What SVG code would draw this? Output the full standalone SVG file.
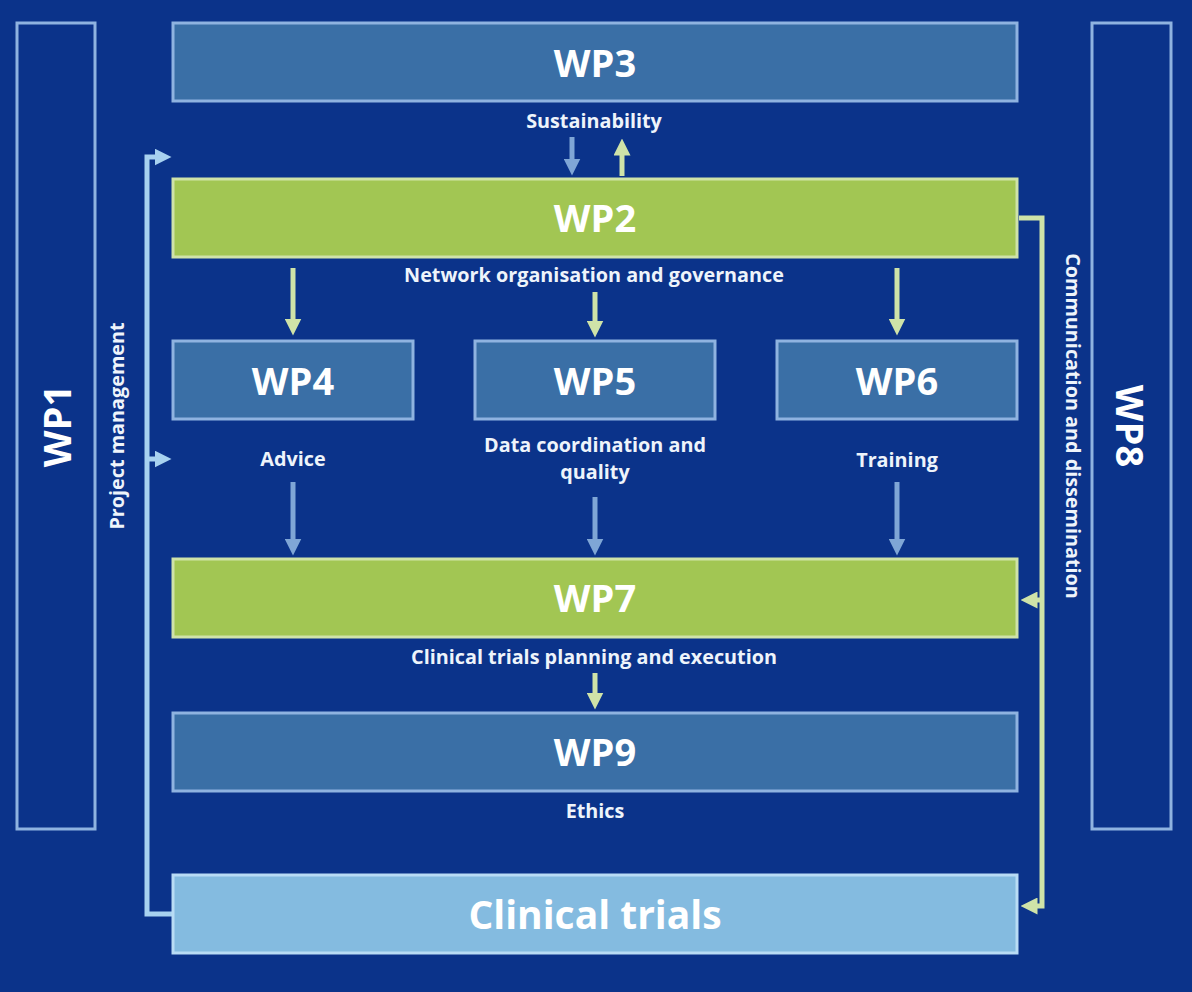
<svg xmlns="http://www.w3.org/2000/svg" width="1192" height="992" viewBox="0 0 1192 992">
<defs>
<style>
.big{font-family:"Open Sans","Noto Sans",sans-serif;font-weight:700;font-size:38px;fill:#ffffff;text-anchor:middle;dominant-baseline:central}
.lbl{font-family:"Open Sans","Noto Sans",sans-serif;font-weight:700;font-size:19.8px;fill:#eef4fb;text-anchor:middle;dominant-baseline:central}
.blue{fill:#3a6fa6;stroke:#8fb3e0;stroke-width:3}
.green{fill:#a2c653;stroke:#cfe3a8;stroke-width:3}
.side{fill:none;stroke:#8fb3e0;stroke-width:3}
.ct{fill:#84bbe0;stroke:#b9dcf5;stroke-width:3}
.ab{stroke:#7fa6d6;stroke-width:5;fill:none}
.ag{stroke:#cfe3a8;stroke-width:5;fill:none}
.lb{stroke:#a8d2f0;stroke-width:5;fill:none}
</style>
<marker id="mb" markerWidth="3.4" markerHeight="3.4" refX="1.7" refY="1.7" orient="auto" markerUnits="strokeWidth" viewBox="0 0 3.4 3.4"><path d="M0,0 L3.4,1.7 L0,3.4 Z" fill="#7fa6d6"/></marker>
<marker id="mg" markerWidth="3.4" markerHeight="3.4" refX="1.7" refY="1.7" orient="auto" markerUnits="strokeWidth" viewBox="0 0 3.4 3.4"><path d="M0,0 L3.4,1.7 L0,3.4 Z" fill="#cfe3a8"/></marker>
<marker id="ml" markerWidth="3.4" markerHeight="3.4" refX="1.7" refY="1.7" orient="auto" markerUnits="strokeWidth" viewBox="0 0 3.4 3.4"><path d="M0,0 L3.4,1.7 L0,3.4 Z" fill="#a8d2f0"/></marker>
</defs>
<rect width="1192" height="992" fill="#0b338a"/>

<g id="connectors">
<path class="ab" d="M572,137 V167" marker-end="url(#mb)"/>
<path class="ag" d="M622,176 V147" marker-end="url(#mg)"/>
<path class="ag" d="M293,268 V327" marker-end="url(#mg)"/>
<path class="ag" d="M595,292 V329" marker-end="url(#mg)"/>
<path class="ag" d="M897,268 V327" marker-end="url(#mg)"/>
<path class="ab" d="M293,482 V547" marker-end="url(#mb)"/>
<path class="ab" d="M595,497 V547" marker-end="url(#mb)"/>
<path class="ab" d="M897,482 V547" marker-end="url(#mb)"/>
<path class="ag" d="M595,673 V701" marker-end="url(#mg)"/>
<path class="lb" d="M172,914 H147 V157 H163" marker-end="url(#ml)"/>
<path class="lb" d="M147,459 H163" marker-end="url(#ml)"/>
<path class="ag" d="M1019,218 H1042 V906 H1029" marker-end="url(#mg)"/>
<path class="ag" d="M1042,600 H1029" marker-end="url(#mg)"/>
</g>

<g id="wp1"><rect class="side" x="17" y="23" width="78" height="806"/><text class="big" transform="translate(56,426) rotate(-90)">WP1</text></g>
<g id="wp8"><rect class="side" x="1092" y="23" width="79" height="806"/><text class="big" transform="translate(1131,426) rotate(90)">WP8</text></g>
<g id="pm-label"><text class="lbl" transform="translate(116,426) rotate(-90)">Project management</text></g>
<g id="cd-label"><text class="lbl" transform="translate(1073,426) rotate(90)">Communication and dissemination</text></g>

<g id="wp3"><rect class="blue" x="173" y="23" width="844" height="78"/><text class="big" x="595" y="62">WP3</text><text class="lbl" x="594" y="120">Sustainability</text></g>
<g id="wp2"><rect class="green" x="173" y="179" width="844" height="78"/><text class="big" x="595" y="217">WP2</text><text class="lbl" x="594" y="274">Network organisation and governance</text></g>
<g id="wp4"><rect class="blue" x="173" y="341" width="240" height="78"/><text class="big" x="293" y="380">WP4</text><text class="lbl" x="293" y="458">Advice</text></g>
<g id="wp5"><rect class="blue" x="475" y="341" width="240" height="78"/><text class="big" x="595" y="380">WP5</text><text class="lbl" x="595" y="444.5">Data coordination and</text><text class="lbl" x="595" y="471.5">quality</text></g>
<g id="wp6"><rect class="blue" x="777" y="341" width="240" height="78"/><text class="big" x="897" y="380">WP6</text><text class="lbl" x="897" y="459">Training</text></g>
<g id="wp7"><rect class="green" x="173" y="559" width="844" height="78"/><text class="big" x="595" y="597">WP7</text><text class="lbl" x="594" y="656">Clinical trials planning and execution</text></g>
<g id="wp9"><rect class="blue" x="173" y="713" width="844" height="78"/><text class="big" x="595" y="751">WP9</text><text class="lbl" x="595" y="810">Ethics</text></g>
<g id="clinical"><rect class="ct" x="173" y="875" width="844" height="78"/><text class="big" x="595" y="913" style="font-size:39px">Clinical trials</text></g>
</svg>
